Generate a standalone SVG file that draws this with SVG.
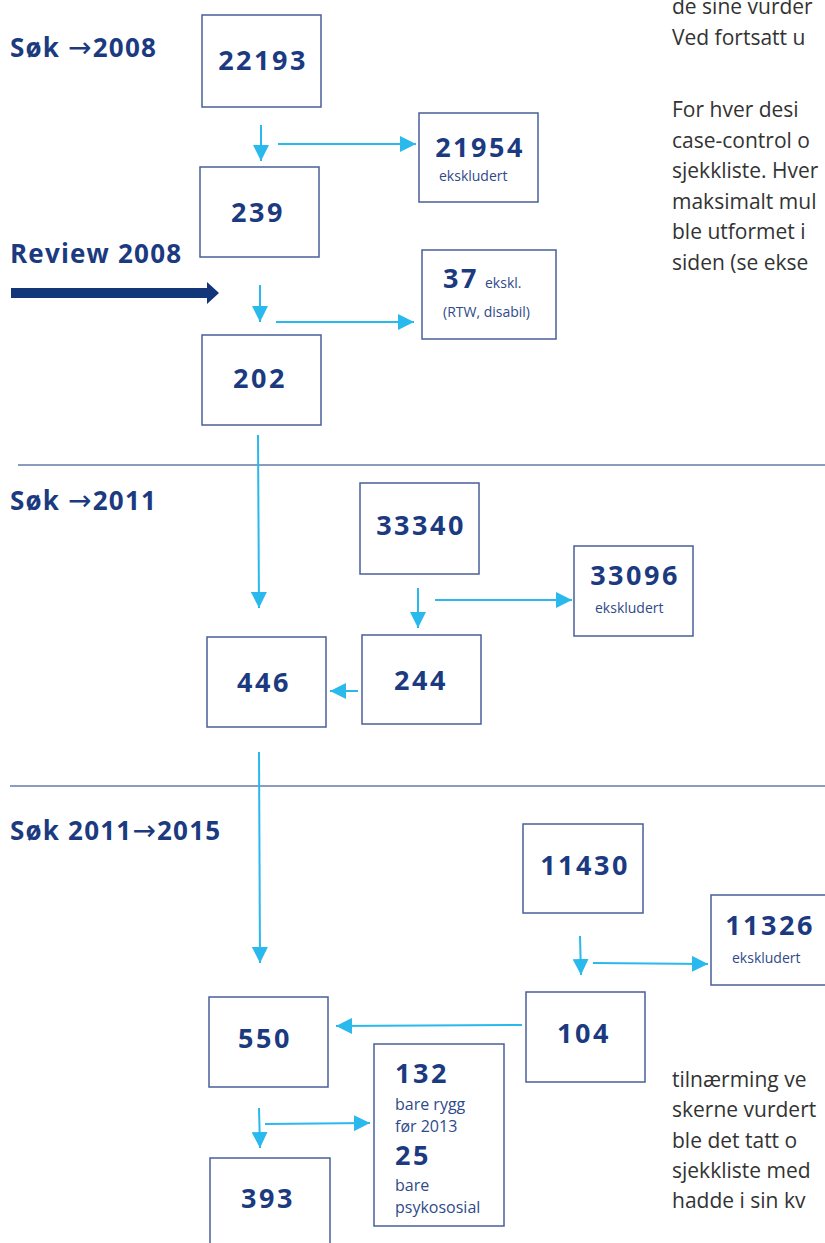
<svg xmlns="http://www.w3.org/2000/svg" width="825" height="1243" viewBox="0 0 825 1243">
<style>
.box{fill:#fff;stroke:#4a5f9a;stroke-width:1.5}
.num{font-family:"Open Sans","Liberation Sans",sans-serif;font-weight:700;font-size:27px;fill:#1b3a80;letter-spacing:2.5px}
.sm{font-family:"Open Sans","Liberation Sans",sans-serif;font-size:14px;fill:#2f4a8a}
.md{font-family:"Open Sans","Liberation Sans",sans-serif;font-size:16px;fill:#2f4a8a}
.lab{font-family:"Open Sans","Liberation Sans",sans-serif;font-weight:700;font-size:26px;fill:#1b3a80;letter-spacing:1.2px}
.arr{font-family:"DejaVu Sans",sans-serif;font-weight:400;font-size:28px}
.body{font-family:"Open Sans","Liberation Sans",sans-serif;font-weight:400;font-size:21px;fill:#333}
.con{stroke:#29b9ec;stroke-width:2;fill:none}
.div{stroke:#1b3a80;stroke-width:1.2}
</style>
<defs>
<marker id="ahb" viewBox="0 0 10 10" refX="10" refY="5" markerWidth="16" markerHeight="16" markerUnits="userSpaceOnUse" orient="auto"><path d="M0,0L10,5L0,10Z" fill="#29b9ec"/></marker>
</defs>
<rect width="825" height="1243" fill="#fff"/>

<g id="labels">
<text class="lab" x="10" y="57">Søk <tspan class="arr">→</tspan>2008</text>
<text class="lab" x="10" y="263">Review 2008</text>
<text class="lab" x="10" y="510">Søk <tspan class="arr">→</tspan>2011</text>
<text class="lab" x="10" y="840">Søk 2011<tspan class="arr">→</tspan>2015</text>
</g>

<g id="dividers">
<line class="div" x1="18" y1="465" x2="825" y2="465"/>
<line class="div" x1="10" y1="786" x2="825" y2="786"/>
</g>

<g id="review-arrow">
<path d="M11,288H207V282L219,293L207,304V298H11Z" fill="#13357a"/>
</g>

<g id="connectors">
<line class="con" x1="261" y1="125" x2="261" y2="161" marker-end="url(#ahb)"/>
<line class="con" x1="278" y1="144" x2="416" y2="144" marker-end="url(#ahb)"/>
<line class="con" x1="260" y1="285" x2="260" y2="322" marker-end="url(#ahb)"/>
<line class="con" x1="276" y1="322" x2="414" y2="322" marker-end="url(#ahb)"/>
<line class="con" x1="258" y1="435" x2="259" y2="608" marker-end="url(#ahb)"/>
<line class="con" x1="418" y1="588" x2="418" y2="628" marker-end="url(#ahb)"/>
<line class="con" x1="435" y1="600" x2="572" y2="600" marker-end="url(#ahb)"/>
<line class="con" x1="358" y1="691" x2="330" y2="691" marker-end="url(#ahb)"/>
<line class="con" x1="259" y1="752" x2="260" y2="963" marker-end="url(#ahb)"/>
<line class="con" x1="580" y1="936" x2="581" y2="975" marker-end="url(#ahb)"/>
<line class="con" x1="593" y1="963" x2="708" y2="964" marker-end="url(#ahb)"/>
<line class="con" x1="522" y1="1025" x2="336" y2="1026" marker-end="url(#ahb)"/>
<line class="con" x1="259" y1="1108" x2="260" y2="1148" marker-end="url(#ahb)"/>
<line class="con" x1="265" y1="1124" x2="370" y2="1123" marker-end="url(#ahb)"/>
</g>

<g id="n22193"><rect class="box" x="202" y="15" width="119" height="92"/><text class="num" x="263" y="70" text-anchor="middle">22193</text></g>
<g id="n239"><rect class="box" x="200" y="167" width="119" height="90"/><text class="num" x="258" y="222" text-anchor="middle">239</text></g>
<g id="n21954"><rect class="box" x="419" y="113" width="119" height="89"/><text class="num" x="480" y="157" text-anchor="middle">21954</text><text class="sm" x="439" y="181">ekskludert</text></g>
<g id="n37"><rect class="box" x="422" y="250" width="134" height="89"/><text class="num" x="443" y="288">37</text><text class="md" x="485" y="288" style="font-size:14px">ekskl.</text><text class="md" x="443" y="317" style="font-size:14px">(RTW, disabil)</text></g>
<g id="n202"><rect class="box" x="202" y="335" width="119" height="90"/><text class="num" x="260" y="388" text-anchor="middle">202</text></g>
<g id="n33340"><rect class="box" x="360" y="483" width="119" height="91"/><text class="num" x="421" y="535" text-anchor="middle">33340</text></g>
<g id="n33096"><rect class="box" x="574" y="546" width="119" height="90"/><text class="num" x="635" y="585" text-anchor="middle">33096</text><text class="sm" x="595" y="613">ekskludert</text></g>
<g id="n244"><rect class="box" x="362" y="635" width="119" height="89"/><text class="num" x="421" y="690" text-anchor="middle">244</text></g>
<g id="n446"><rect class="box" x="207" y="637" width="119" height="90"/><text class="num" x="264" y="692" text-anchor="middle">446</text></g>
<g id="n11430"><rect class="box" x="523" y="824" width="120" height="89"/><text class="num" x="585" y="875" text-anchor="middle">11430</text></g>
<g id="n11326"><rect class="box" x="711" y="895" width="125" height="90"/><text class="num" x="770" y="935" text-anchor="middle">11326</text><text class="sm" x="732" y="963">ekskludert</text></g>
<g id="n104"><rect class="box" x="526" y="992" width="119" height="90"/><text class="num" x="584" y="1043" text-anchor="middle">104</text></g>
<g id="n550"><rect class="box" x="209" y="997" width="119" height="90"/><text class="num" x="265" y="1048" text-anchor="middle">550</text></g>
<g id="n132"><rect class="box" x="374" y="1044" width="130" height="182"/>
<text class="num" x="395" y="1083">132</text>
<text class="md" x="395" y="1110">bare rygg</text>
<text class="md" x="395" y="1132">før 2013</text>
<text class="num" x="395" y="1165">25</text>
<text class="md" x="395" y="1191">bare</text>
<text class="md" x="395" y="1213">psykososial</text>
</g>
<g id="n393"><rect class="box" x="210" y="1158" width="120" height="100"/><text class="num" x="268" y="1208" text-anchor="middle">393</text></g>

<g id="bodytext">
<text class="body" x="672" y="14">de sine vurder</text>
<text class="body" x="672" y="45">Ved fortsatt u</text>
<text class="body" x="672" y="117">For hver desi</text>
<text class="body" x="672" y="148">case-control o</text>
<text class="body" x="672" y="178">sjekkliste. Hver</text>
<text class="body" x="672" y="209">maksimalt mul</text>
<text class="body" x="672" y="239">ble utformet i</text>
<text class="body" x="672" y="270">siden (se ekse</text>
<text class="body" x="672" y="1087">tilnærming ve</text>
<text class="body" x="672" y="1117">skerne vurdert</text>
<text class="body" x="672" y="1148">ble det tatt o</text>
<text class="body" x="672" y="1178">sjekkliste med</text>
<text class="body" x="672" y="1208">hadde i sin kv</text>
</g>
</svg>
